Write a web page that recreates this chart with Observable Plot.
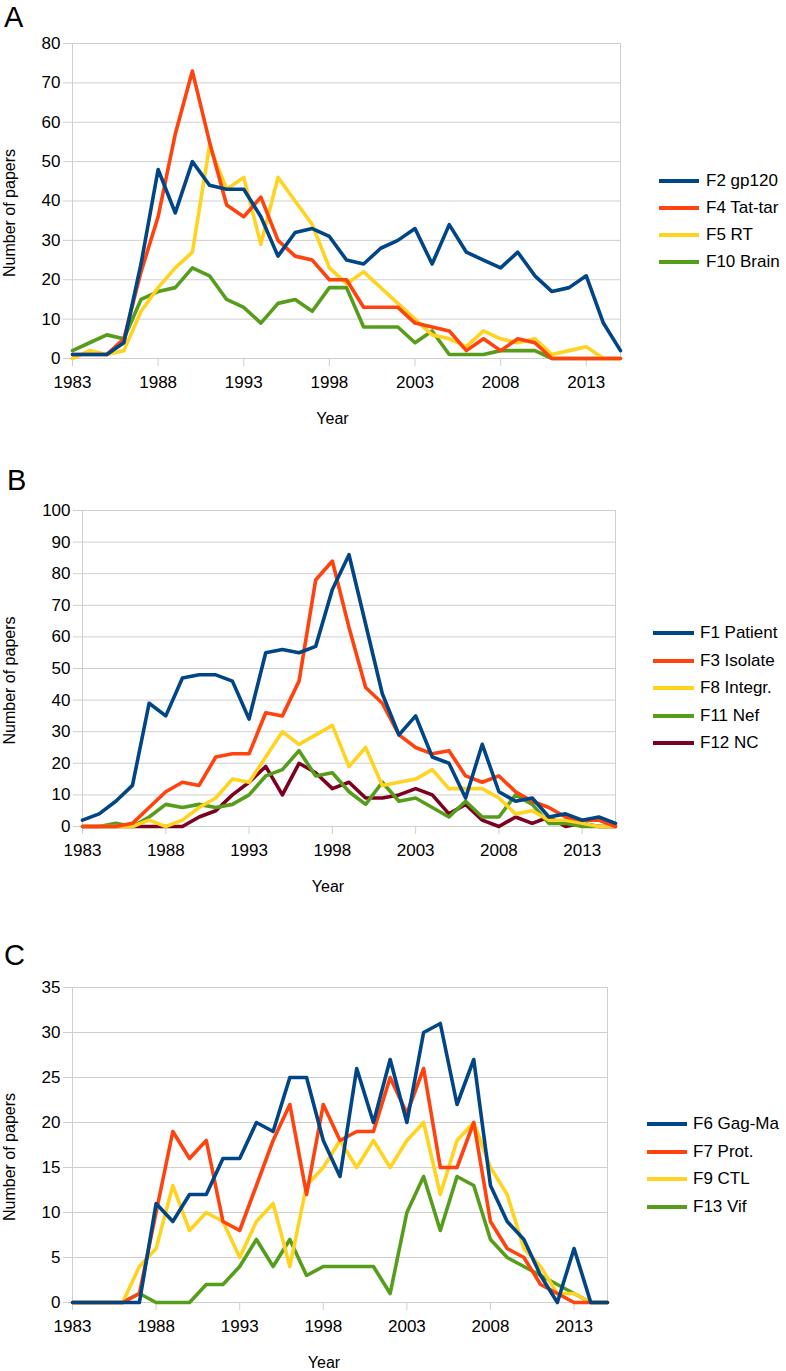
<!DOCTYPE html>
<html><head><meta charset="utf-8">
<script src="https://cdn.jsdelivr.net/npm/d3@7"></script>
<script src="https://cdn.jsdelivr.net/npm/@observablehq/plot@0.6"></script>
<style>
body{margin:0;background:#fff;font-family:"Liberation Sans",Arial,sans-serif;color:#000;}
#root{position:relative;width:786px;height:1371px;overflow:hidden;background:#fff;}
.panel{position:absolute;left:0;}
.letter{position:absolute;font-size:29px;line-height:1;}
.legend{position:absolute;font-size:17px;}
.row{display:flex;align-items:center;white-space:nowrap;}
.swatch{display:inline-block;height:0;border-top:4px solid;}
</style></head><body><div id="root"></div>
<script>
// ---- shared categories ----
const years = [1983,1984,1985,1986,1987,1988,1989,1990,1991,1992,1993,1994,1995,1996,1997,1998,1999,2000,2001,2002,2003,2004,2005,2006,2007,2008,2009,2010,2011,2012,2013,2014,2015];
const xTicks = [1983,1988,1993,1998,2003,2008,2013];

// ---- Panel A ----
const namesA = ["F2 gp120","F4 Tat-tar","F5 RT","F10 Brain"];
const ticksA = [0,10,20,30,40,50,60,70,80];
const gp120  = [1,1,1,4,24,48,37,50,44,43, 43,36,26,32,33,31,25,24,28,30, 33,24,34,27,25,23,27,21,17,18, 21,9,2];
const tatTar = [1,1,1,5,22,36,57,73,55,39, 36,41,30,26,25,20,20,13,13,13, 9,8,7,2,5,2,5,4,0,0, 0,0,0];
const rt     = [0,2,1,2,12,18,23,27,54,43, 46,29,46,40,34,23,19,22,18,14, 10,6,5,3,7,5,4,5,1,2, 3,0,0];
const brain  = [2,4,6,5,15,17,18,23,21,15, 13,9,14,15,12,18,18,8,8,8, 4,7,1,1,1,2,2,2,0,0, 0,0,0];

// ---- Panel B ----
const namesB = ["F1 Patient","F3 Isolate","F8 Integr.","F11 Nef","F12 NC"];
const ticksB = [0,10,20,30,40,50,60,70,80,90,100];
const patient = [2,4,8,13,39,35,47,48,48,46, 34,55,56,55,57,75,86,64,42,29, 35,22,20,9,26,11,8,9,3,4, 2,3,1];
const isolate = [0,0,0,1,6,11,14,13,22,23, 23,36,35,46,78,84,63,44,39,29, 25,23,24,16,14,16,11,8,6,3, 2,2,0];
const integr  = [0,0,0,0,2,0,2,6,9,15, 14,22,30,26,29,32,19,25,13,14, 15,18,12,12,12,9,4,5,2,2, 1,0,0];
const nef     = [0,0,1,0,3,7,6,7,6,7, 10,16,18,24,16,17,11,7,14,8, 9,6,3,8,3,3,10,7,1,1, 0,0,0];
const nc      = [0,0,0,0,0,0,0,3,5,10, 14,19,10,20,17,12,14,9,9,10, 12,10,4,7,2,0,3,1,3,0, 1,0,0];

// ---- Panel C ----
const namesC = ["F6 Gag-Ma","F7 Prot.","F9 CTL","F13 Vif"];
const ticksC = [0,5,10,15,20,25,30,35];
const gagMa = [0,0,0,0,0,11,9,12,12,16, 16,20,19,25,25,18,14,26,20,27, 20,30,31,22,27,13,9,7,3,0, 6,0,0];
const prot  = [0,0,0,0,1,10,19,16,18,9, 8,13,18,22,12,22,18,19,19,25, 21,26,15,15,20,9,6,5,2,1, 0,0,0];
const ctl   = [0,0,0,0,4,6,13,8,10,9, 5,9,11,4,13,15,18,15,18,15, 18,20,12,18,20,15,12,6,4,1, 1,0,0];
const vif   = [0,0,0,0,1,0,0,0,2,2, 4,7,4,7,3,4,4,4,4,1, 10,14,8,14,13,7,5,4,3,2, 1,0,0];

const blue = "#004586", red = "#ff420e", yellow = "#ffd320", green = "#579d1c", maroon = "#7e0021";
const gridColor = "#cfcfcf";

const root = document.getElementById("root");

function makePanel(cfg) {
  const data = cfg.names.flatMap((name, s) =>
    years.map((year, i) => ({year, value: cfg.values[s][i], series: name})));
  const lines = cfg.names.slice().reverse().map(n =>
    Plot.line(data.filter(d => d.series === n), {
      x: "year", y: "value", stroke: "series", strokeWidth: 3.6, strokeLinejoin: "round"
    }));
  const chart = Plot.plot({
    width: 786,
    height: cfg.height,
    marginTop: cfg.mt, marginBottom: cfg.mb, marginLeft: cfg.ml, marginRight: cfg.mr,
    style: {fontFamily: "'Liberation Sans', Arial, sans-serif", fontSize: "17px", background: "white", color: "black", overflow: "visible"},
    x: {domain: [1983, 2015]},
    y: {domain: [0, cfg.yMax]},
    color: {domain: cfg.names, range: cfg.colors},
    marks: [
      Plot.gridY(cfg.yTicks, {stroke: gridColor, strokeOpacity: 1, strokeWidth: 1}),
      Plot.frame({stroke: gridColor, strokeWidth: 1}),
      Plot.axisX(xTicks, {tickFormat: d => String(d), tickSize: 8, tickPadding: 9, stroke: gridColor, strokeOpacity: 1, label: null, fontSize: 17}),
      Plot.axisY(cfg.yTicks, {tickSize: 9, tickPadding: 3, stroke: gridColor, strokeOpacity: 1, label: null, fontSize: 17}),
      ...lines,
      Plot.text(["Number of papers"], {frameAnchor: "left", rotate: -90, textAnchor: "middle", lineAnchor: "middle", dx: -(cfg.ml - 9), dy: 12, fontSize: 16}),
      Plot.text(["Year"], {frameAnchor: "bottom", textAnchor: "middle", lineAnchor: "middle", dy: 60, dx: cfg.yearDx, fontSize: 16})
    ]
  });
  const wrap = document.createElement("div");
  wrap.className = "panel";
  wrap.style.top = cfg.top + "px";
  wrap.appendChild(chart);
  root.appendChild(wrap);

  const letter = document.createElement("div");
  letter.className = "letter";
  letter.textContent = cfg.letter;
  letter.style.left = cfg.letterX + "px";
  letter.style.top = cfg.letterY + "px";
  root.appendChild(letter);

  const legend = document.createElement("div");
  legend.className = "legend";
  legend.style.left = cfg.legX + "px";
  legend.style.top = (cfg.legY - cfg.legStep / 2) + "px";
  cfg.names.forEach((n, i) => {
    const row = document.createElement("div");
    row.className = "row";
    row.style.height = cfg.legStep + "px";
    const sw = document.createElement("span");
    sw.className = "swatch";
    sw.style.width = cfg.legLine + "px";
    sw.style.marginRight = cfg.legGap + "px";
    sw.style.borderTopColor = cfg.colors[i];
    const tx = document.createElement("span");
    tx.textContent = n;
    row.appendChild(sw);
    row.appendChild(tx);
    legend.appendChild(row);
  });
  root.appendChild(legend);
}

makePanel({
  top: 0, height: 440, mt: 43, mb: 82, ml: 72, mr: 166, yMax: 80, yTicks: ticksA,
  names: namesA, colors: [blue, red, yellow, green], values: [gp120, tatTar, rt, brain],
  letter: "A", letterX: 4, letterY: 3, yearDx: -14,
  legX: 659, legY: 181, legStep: 27, legLine: 40, legGap: 7
});
makePanel({
  top: 440, height: 460, mt: 70, mb: 74, ml: 82, mr: 171, yMax: 100, yTicks: ticksB,
  names: namesB, colors: [blue, red, yellow, green, maroon], values: [patient, isolate, integr, nef, nc],
  letter: "B", letterX: 7, letterY: 466, yearDx: -21,
  legX: 653, legY: 633, legStep: 27.5, legLine: 41, legGap: 6
});
makePanel({
  top: 900, height: 471, mt: 87, mb: 69, ml: 72, mr: 179, yMax: 35, yTicks: ticksC,
  names: namesC, colors: [blue, red, yellow, green], values: [gagMa, prot, ctl, vif],
  letter: "C", letterX: 4, letterY: 941, yearDx: -16,
  legX: 647, legY: 1124, legStep: 27.6, legLine: 40, legGap: 6
});
</script>
</body></html>
